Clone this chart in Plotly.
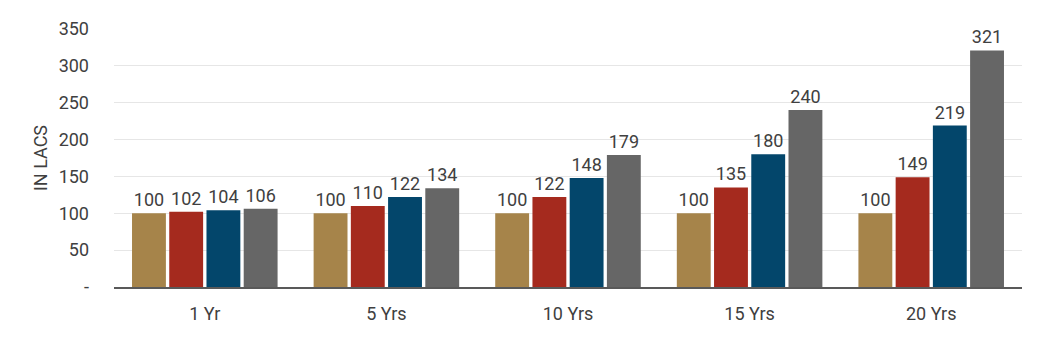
import plotly.graph_objects as go

categories = ["1 Yr", "5 Yrs", "10 Yrs", "15 Yrs", "20 Yrs"]
series_names = ["Series 1", "Series 2", "Series 3", "Series 4"]
series_1 = [100, 100, 100, 100, 100]
series_2 = [102, 110, 122, 135, 149]
series_3 = [104, 122, 148, 180, 219]
series_4 = [106, 134, 179, 240, 321]
colors = ["#A6844A", "#A52A1E", "#03466B", "#666666"]
tick_vals = [0, 50, 100, 150, 200, 250, 300, 350]
tick_text = ["-", "50", "100", "150", "200", "250", "300", "350"]

fig = go.Figure()
for name, vals, col in zip(series_names, [series_1, series_2, series_3, series_4], colors):
    fig.add_trace(go.Bar(
        x=categories, y=vals, name=name,
        marker=dict(color=col, line=dict(width=0)),
        text=[str(v) for v in vals], textposition="outside",
        textfont=dict(family="Roboto", size=18, color="#404040"),
        cliponaxis=False,
    ))

fig.update_layout(
    barmode="group", bargap=0.18, bargroupgap=0.09,
    width=1046, height=337,
    margin=dict(l=114, r=24, t=29, b=50),
    plot_bgcolor="white", paper_bgcolor="white",
    showlegend=False,
    font=dict(family="Roboto", size=18, color="#404040"),
    uniformtext=dict(mode=False),
)
fig.update_xaxes(
    showline=True, linecolor="#595959", linewidth=1.5,
    ticks="", tickfont=dict(family="Roboto", size=18, color="#404040"),
    ticklabelstandoff=10,
    showgrid=False,
)
fig.update_yaxes(
    range=[0, 350], tickvals=tick_vals, ticktext=tick_text,
    showgrid=True, gridcolor="#E6E6E6", gridwidth=1,
    zeroline=False, showline=False,
    tickfont=dict(family="Roboto", size=18, color="#404040"),
    ticklabelstandoff=24,
    title=dict(text="IN LACS", font=dict(family="Roboto", size=18, color="#404040"), standoff=6),
)
fig.write_html("out.html")
